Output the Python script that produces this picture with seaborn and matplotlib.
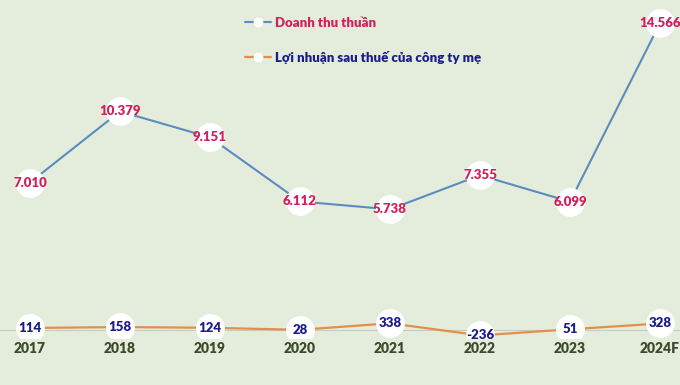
import numpy as np
import pandas as pd
import matplotlib
matplotlib.use("Agg")
import matplotlib.pyplot as plt
from matplotlib.lines import Line2D
import seaborn as sns

# data (ty dong)
years = ["2017", "2018", "2019", "2020", "2021", "2022", "2023", "2024F"]
doanh_thu = [7010, 10379, 9151, 6112, 5738, 7355, 6099, 14566]
loi_nhuan = [114, 158, 124, 28, 338, -236, 51, 328]
series_names = ["Doanh thu thuần", "Lợi nhuận sau thuế của công ty mẹ"]

bg = "#e4eddc"
blue_line = "#5a8cbf"
orange_line = "#e38e4c"
red_txt = "#d2205a"
navy_txt = "#1c1c8c"
year_txt = "#3b4a2c"

sns.set_theme(style="white")
plt.rcParams["font.family"] = ["Lato", "DejaVu Sans"]

fig = plt.figure(figsize=(6.8, 3.85), dpi=100)
fig.patch.set_facecolor(bg)
ax = fig.add_axes([0, 47 / 385, 1, 338 / 385])
ax.set_facecolor(bg)

pos = np.arange(len(years))
df = pd.DataFrame({"pos": pos, "dt": doanh_thu, "ln": loi_nhuan})

# faint category axis line
ax.axhline(0, color="#c5cbc0", lw=0.8, zorder=0)

sns.lineplot(data=df, x="pos", y="dt", ax=ax, color=blue_line, lw=1.5,
             marker="o", markersize=20, markerfacecolor="white",
             markeredgecolor="white", zorder=2)
sns.lineplot(data=df, x="pos", y="ln", ax=ax, color=orange_line, lw=1.6,
             marker="o", markersize=20, markerfacecolor="white",
             markeredgecolor="white", zorder=2)

def fmt(v):
    return "{:,}".format(v).replace(",", ".")

for x, v in zip(pos, doanh_thu):
    ax.text(x, v, fmt(v), ha="center", va="center", color=red_txt,
            fontsize=9.5, fontweight="heavy", zorder=5)
for x, v in zip(pos, loi_nhuan):
    ax.text(x, v, fmt(v), ha="center", va="center", color=navy_txt,
            fontsize=9.5, fontweight="heavy", zorder=5)

ax.set_xlim(-30 / 90, 7 + 20 / 90)
ax.set_ylim(-360, 15660)
ax.set_xticks(pos)
ax.set_xticklabels(years, fontsize=10, fontweight="heavy", color=year_txt)
ax.tick_params(axis="x", length=0, pad=3)
ax.set_yticks([])
ax.set_xlabel("")
ax.set_ylabel("")
for s in ax.spines.values():
    s.set_visible(False)

handles = [
    Line2D([], [], color=blue_line, lw=1.5, marker="o", markersize=6,
           markerfacecolor="white", markeredgecolor="white"),
    Line2D([], [], color=orange_line, lw=1.6, marker="o", markersize=6,
           markerfacecolor="white", markeredgecolor="white"),
]
leg = fig.legend(handles, series_names, loc="upper left",
                 bbox_to_anchor=(245 / 680, 1 - 17 / 385), frameon=False,
                 prop={"size": 9.5, "weight": "heavy"}, handlelength=2.0,
                 handletextpad=0.3, labelspacing=1.65, borderpad=0,
                 borderaxespad=0)
leg.get_texts()[0].set_color(red_txt)
leg.get_texts()[1].set_color(navy_txt)

fig.savefig("out.png", dpi=100, facecolor=bg)
